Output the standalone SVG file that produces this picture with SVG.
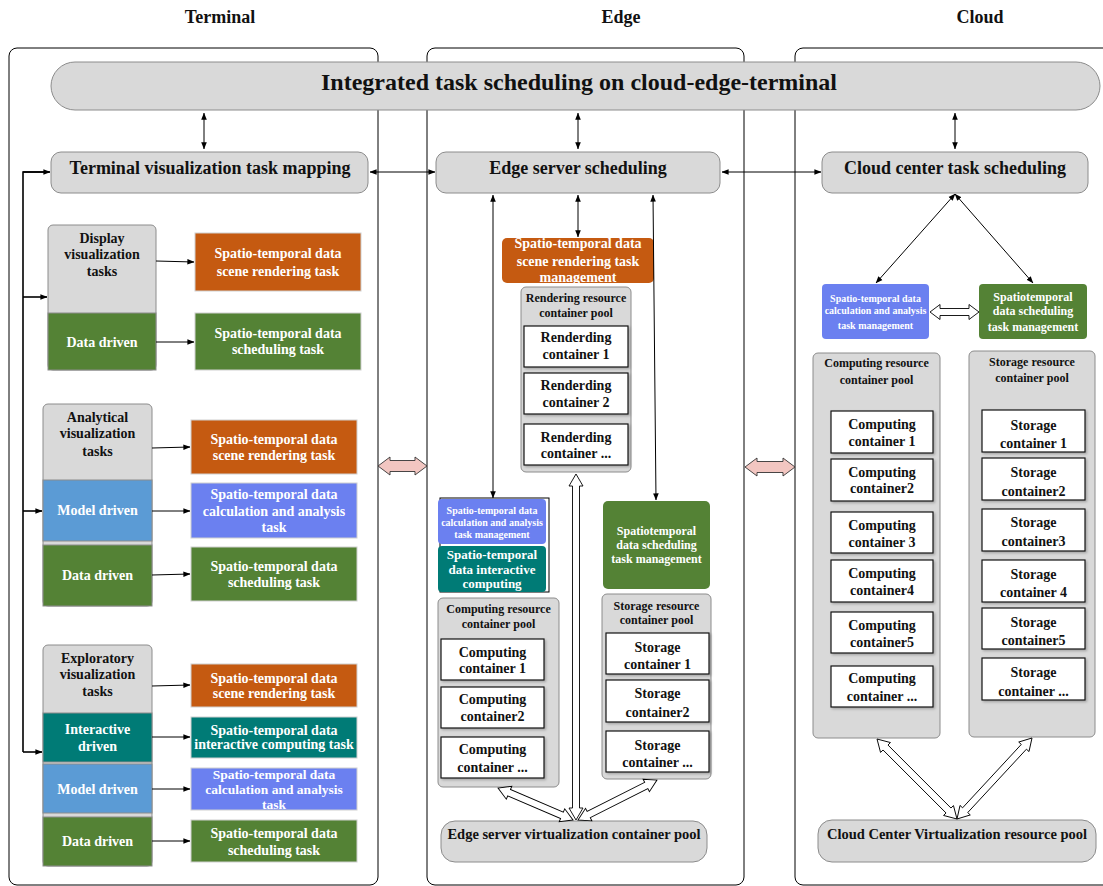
<svg xmlns="http://www.w3.org/2000/svg" width="1103" height="886" viewBox="0 0 1103 886">
<style>
.t{font-family:"Liberation Serif","Times New Roman",serif;font-weight:bold;text-anchor:middle;dominant-baseline:central}
.w{fill:#fff}.k{fill:#111}
.f10{font-size:10px}.f12{font-size:12px}.f13{font-size:13px}.f135{font-size:13.5px}.f14{font-size:14px}.f145{font-size:14.5px}.f18{font-size:18px}.f24{font-size:24px}
.frame{fill:#fff;stroke:#000;stroke-width:1}
.gray{fill:#d9d9d9;stroke:#8c8c8c;stroke-width:1}
.org{fill:#c55a11}.grn{fill:#548235}.blu{fill:#5b9bd5}.vio{fill:#6b80f0}.tea{fill:#007b76}
.sub{stroke:#8c8c8c;stroke-width:1}
.rb{stroke:#d0d0d0;stroke-width:1}
.cont{fill:#fff;stroke:#111;stroke-width:1.2}
.ln{fill:none;stroke:#000;stroke-width:1}
.lnb{fill:none;stroke:#000;stroke-width:1.6}
.hol{fill:#fff;stroke:#000;stroke-width:0.9}
.pink{fill:#f2c6c1;stroke:#333;stroke-width:0.9}
</style>
<defs>
<marker id="ah" viewBox="0 0 10 10" refX="9.5" refY="5" markerWidth="7" markerHeight="7" markerUnits="userSpaceOnUse" orient="auto-start-reverse"><path d="M0,1 L10,5 L0,9 z" fill="#000"/></marker>
<filter id="sh" x="-10%" y="-10%" width="125%" height="130%"><feDropShadow dx="1.5" dy="1.5" stdDeviation="1" flood-color="#000" flood-opacity="0.25"/></filter>
</defs>
<rect width="1103" height="886" fill="#fff"/>

<g id="titles">
<text class="t k f18" x="220" y="17">Terminal</text>
<text class="t k f18" x="621" y="17">Edge</text>
<text class="t k f18" x="980" y="17">Cloud</text>
</g>

<g id="frames">
<rect class="frame" x="9" y="48" width="369" height="837" rx="8"/>
<rect class="frame" x="427" y="48" width="317" height="837" rx="8"/>
<rect class="frame" x="795" y="48" width="330" height="837" rx="8"/>
</g>

<g id="banner">
<rect class="gray" x="51" y="62" width="1049" height="48" rx="24"/>
<text class="t k f24" x="579" y="82">Integrated task scheduling on cloud-edge-terminal</text>
</g>

<g id="terminal-mapping">
<rect class="gray" x="51" y="152" width="317" height="41" rx="10"/>
<text class="t k f18" x="210" y="168">Terminal visualization task mapping</text>
</g>
<g id="edge-scheduling">
<rect class="gray" x="436" y="152" width="284" height="41" rx="10"/>
<text class="t k f18" x="578" y="168">Edge server scheduling</text>
</g>
<g id="cloud-scheduling">
<rect class="gray" x="822" y="152" width="266" height="41" rx="10"/>
<text class="t k f18" x="955" y="168">Cloud center task scheduling</text>
</g>

<!-- Terminal: display -->
<g id="display-tasks">
<rect class="gray" x="48" y="225" width="108" height="145" rx="5"/>
<text class="t k f14" x="102" y="238">Display</text>
<text class="t k f14" x="102" y="254">visualization</text>
<text class="t k f14" x="102" y="271">tasks</text>
</g>
<g id="display-data-driven">
<rect class="grn sub" x="48" y="313" width="108" height="57"/>
<text class="t w f14" x="102" y="342">Data driven</text>
</g>
<g id="display-render-task">
<rect class="org rb" x="195" y="233" width="166" height="58"/>
<text class="t w f14" x="278" y="253">Spatio-temporal data</text>
<text class="t w f14" x="278" y="271">scene rendering task</text>
</g>
<g id="display-sched-task">
<rect class="grn rb" x="195" y="313" width="166" height="57"/>
<text class="t w f14" x="278" y="333">Spatio-temporal data</text>
<text class="t w f14" x="278" y="349">scheduling task</text>
</g>

<!-- Terminal: analytical -->
<g id="analytical-tasks">
<rect class="gray" x="43" y="404" width="109" height="202" rx="5"/>
<text class="t k f14" x="97.5" y="417">Analytical</text>
<text class="t k f14" x="97.5" y="433">visualization</text>
<text class="t k f14" x="97.5" y="451">tasks</text>
</g>
<g id="analytical-model-driven">
<rect class="blu sub" x="43" y="480" width="109" height="61"/>
<text class="t w f14" x="97.5" y="510">Model driven</text>
</g>
<g id="analytical-data-driven">
<rect class="grn sub" x="43" y="545" width="109" height="61"/>
<text class="t w f14" x="97.5" y="575">Data driven</text>
</g>
<g id="analytical-render-task">
<rect class="org rb" x="191" y="420" width="166" height="54"/>
<text class="t w f14" x="274" y="439">Spatio-temporal data</text>
<text class="t w f14" x="274" y="455">scene rendering task</text>
</g>
<g id="analytical-calc-task">
<rect class="vio rb" x="191" y="483" width="166" height="55"/>
<text class="t w f14" x="274" y="494">Spatio-temporal data</text>
<text class="t w f14" x="274" y="511">calculation and analysis</text>
<text class="t w f14" x="274" y="527">task</text>
</g>
<g id="analytical-sched-task">
<rect class="grn rb" x="191" y="547" width="166" height="54"/>
<text class="t w f14" x="274" y="566">Spatio-temporal data</text>
<text class="t w f14" x="274" y="582">scheduling task</text>
</g>

<!-- Terminal: exploratory -->
<g id="exploratory-tasks">
<rect class="gray" x="43" y="645" width="109" height="221" rx="5"/>
<text class="t k f14" x="97.5" y="658">Exploratory</text>
<text class="t k f14" x="97.5" y="674">visualization</text>
<text class="t k f14" x="97.5" y="691">tasks</text>
</g>
<g id="exploratory-interactive-driven">
<rect class="tea sub" x="43" y="713" width="109" height="49"/>
<text class="t w f14" x="97.5" y="729">Interactive</text>
<text class="t w f14" x="97.5" y="746">driven</text>
</g>
<g id="exploratory-model-driven">
<rect class="blu sub" x="43" y="764" width="109" height="49"/>
<text class="t w f14" x="97.5" y="789">Model driven</text>
</g>
<g id="exploratory-data-driven">
<rect class="grn sub" x="43" y="817" width="109" height="49"/>
<text class="t w f14" x="97.5" y="841">Data driven</text>
</g>
<g id="exploratory-render-task">
<rect class="org rb" x="191" y="664" width="166" height="43"/>
<text class="t w f14" x="274" y="678">Spatio-temporal data</text>
<text class="t w f14" x="274" y="693">scene rendering task</text>
</g>
<g id="exploratory-interactive-task">
<rect class="tea rb" x="191" y="717" width="166" height="41"/>
<text class="t w f14" x="274" y="730">Spatio-temporal data</text>
<text class="t w f14" x="274" y="744">interactive computing task</text>
</g>
<g id="exploratory-calc-task">
<rect class="vio rb" x="191" y="768" width="166" height="42"/>
<text class="t w f135" x="274" y="774">Spatio-temporal data</text>
<text class="t w f135" x="274" y="789">calculation and analysis</text>
<text class="t w f135" x="274" y="804">task</text>
</g>
<g id="exploratory-sched-task">
<rect class="grn rb" x="191" y="820" width="166" height="42"/>
<text class="t w f14" x="274" y="833">Spatio-temporal data</text>
<text class="t w f14" x="274" y="850">scheduling task</text>
</g>

<!-- Edge -->
<g id="edge-render-mgmt">
<rect class="org" x="502" y="238" width="152" height="45" rx="5"/>
<text class="t w f14" x="578" y="243">Spatio-temporal data</text>
<text class="t w f14" x="578" y="261">scene rendering task</text>
<text class="t w f14" x="578" y="277">management</text>
</g>
<g id="edge-render-pool">
<rect class="gray" x="521" y="287" width="110" height="185" rx="5"/>
<text class="t k f12" x="576" y="298">Rendering resource</text>
<text class="t k f12" x="576" y="313">container pool</text>
</g>
<g id="render-c1"><rect class="cont" x="524" y="326" width="104" height="41" filter="url(#sh)"/>
<text class="t k f14" x="576" y="337">Renderding</text><text class="t k f14" x="576" y="354">container 1</text></g>
<g id="render-c2"><rect class="cont" x="524" y="373" width="104" height="41" filter="url(#sh)"/>
<text class="t k f14" x="576" y="385">Renderding</text><text class="t k f14" x="576" y="402">container 2</text></g>
<g id="render-c3"><rect class="cont" x="524" y="424" width="104" height="41" filter="url(#sh)"/>
<text class="t k f14" x="576" y="437">Renderding</text><text class="t k f14" x="576" y="453">container ...</text></g>

<g id="edge-calc-mgmt">
<rect class="ln" x="440" y="498" width="109" height="94"/>
<rect class="vio" x="438" y="499" width="108" height="45" rx="4"/>
<text class="t w f10" x="492" y="510">Spatio-temporal data</text>
<text class="t w f10" x="492" y="522">calculation and analysis</text>
<text class="t w f10" x="492" y="534">task management</text>
</g>
<g id="edge-interactive">
<rect class="tea" x="438" y="546" width="108" height="46" rx="4"/>
<text class="t w f13" x="492" y="554">Spatio-temporal</text>
<text class="t w f13" x="492" y="569">data interactive</text>
<text class="t w f13" x="492" y="583">computing</text>
</g>
<g id="edge-sched-mgmt">
<rect class="grn" x="603" y="501" width="107" height="88" rx="5"/>
<text class="t w f12" x="656.5" y="531">Spatiotemporal</text>
<text class="t w f12" x="656.5" y="545">data scheduling</text>
<text class="t w f12" x="656.5" y="559">task management</text>
</g>
<g id="edge-compute-pool">
<rect class="gray" x="438" y="598" width="121" height="189" rx="5"/>
<text class="t k f12" x="498.5" y="609">Computing resource</text>
<text class="t k f12" x="498.5" y="624">container pool</text>
</g>
<g id="edge-comp-c1"><rect class="cont" x="441" y="639" width="103" height="41" filter="url(#sh)"/>
<text class="t k f14" x="492.5" y="652">Computing</text><text class="t k f14" x="492.5" y="668">container 1</text></g>
<g id="edge-comp-c2"><rect class="cont" x="441" y="687" width="103" height="41" filter="url(#sh)"/>
<text class="t k f14" x="492.5" y="699">Computing</text><text class="t k f14" x="492.5" y="716">container2</text></g>
<g id="edge-comp-c3"><rect class="cont" x="441" y="737" width="103" height="41" filter="url(#sh)"/>
<text class="t k f14" x="492.5" y="749">Computing</text><text class="t k f14" x="492.5" y="767">container ...</text></g>
<g id="edge-storage-pool">
<rect class="gray" x="602" y="594" width="109" height="185" rx="5"/>
<text class="t k f12" x="656.5" y="606">Storage resource</text>
<text class="t k f12" x="656.5" y="620">container pool</text>
</g>
<g id="edge-stor-c1"><rect class="cont" x="606" y="633" width="103" height="41" filter="url(#sh)"/>
<text class="t k f14" x="657.5" y="647">Storage</text><text class="t k f14" x="657.5" y="664">container 1</text></g>
<g id="edge-stor-c2"><rect class="cont" x="606" y="680" width="103" height="42" filter="url(#sh)"/>
<text class="t k f14" x="657.5" y="693">Storage</text><text class="t k f14" x="657.5" y="712">container2</text></g>
<g id="edge-stor-c3"><rect class="cont" x="606" y="731" width="103" height="41" filter="url(#sh)"/>
<text class="t k f14" x="657.5" y="745">Storage</text><text class="t k f14" x="657.5" y="762">container ...</text></g>
<g id="edge-virt-pool">
<rect class="gray" x="441" y="821" width="266" height="41" rx="14"/>
<text class="t k f145" x="574" y="834">Edge server virtualization container pool</text>
</g>

<!-- Cloud -->
<g id="cloud-calc-mgmt">
<rect class="vio" x="822" y="284" width="107" height="55" rx="4"/>
<text class="t w f10" x="875.5" y="298">Spatio-temporal data</text>
<text class="t w f10" x="875.5" y="310">calculation and analysis</text>
<text class="t w f10" x="875.5" y="325">task management</text>
</g>
<g id="cloud-sched-mgmt">
<rect class="grn" x="979" y="284" width="108" height="55" rx="4"/>
<text class="t w f12" x="1033" y="297">Spatiotemporal</text>
<text class="t w f12" x="1033" y="311">data scheduling</text>
<text class="t w f12" x="1033" y="327">task management</text>
</g>
<g id="cloud-compute-pool">
<rect class="gray" x="813" y="353" width="127" height="385" rx="5"/>
<text class="t k f12" x="876.5" y="363">Computing resource</text>
<text class="t k f12" x="876.5" y="380">container pool</text>
</g>
<g id="cloud-comp-c1"><rect class="cont" x="831" y="411" width="102" height="42" filter="url(#sh)"/>
<text class="t k f14" x="882" y="424">Computing</text><text class="t k f14" x="882" y="441">container 1</text></g>
<g id="cloud-comp-c2"><rect class="cont" x="831" y="459" width="102" height="42" filter="url(#sh)"/>
<text class="t k f14" x="882" y="472">Computing</text><text class="t k f14" x="882" y="488">container2</text></g>
<g id="cloud-comp-c3"><rect class="cont" x="831" y="512" width="102" height="41" filter="url(#sh)"/>
<text class="t k f14" x="882" y="525">Computing</text><text class="t k f14" x="882" y="542">container 3</text></g>
<g id="cloud-comp-c4"><rect class="cont" x="831" y="560" width="102" height="42" filter="url(#sh)"/>
<text class="t k f14" x="882" y="573">Computing</text><text class="t k f14" x="882" y="590">container4</text></g>
<g id="cloud-comp-c5"><rect class="cont" x="831" y="612" width="102" height="41" filter="url(#sh)"/>
<text class="t k f14" x="882" y="625">Computing</text><text class="t k f14" x="882" y="642">container5</text></g>
<g id="cloud-comp-c6"><rect class="cont" x="831" y="666" width="102" height="41" filter="url(#sh)"/>
<text class="t k f14" x="882" y="678">Computing</text><text class="t k f14" x="882" y="696">container ...</text></g>
<g id="cloud-storage-pool">
<rect class="gray" x="969" y="351" width="126" height="386" rx="5"/>
<text class="t k f12" x="1032" y="362">Storage resource</text>
<text class="t k f12" x="1032" y="378">container pool</text>
</g>
<g id="cloud-stor-c1"><rect class="cont" x="982" y="410" width="103" height="42" filter="url(#sh)"/>
<text class="t k f14" x="1033.5" y="425">Storage</text><text class="t k f14" x="1033.5" y="443">container 1</text></g>
<g id="cloud-stor-c2"><rect class="cont" x="982" y="458" width="103" height="42" filter="url(#sh)"/>
<text class="t k f14" x="1033.5" y="472">Storage</text><text class="t k f14" x="1033.5" y="491">container2</text></g>
<g id="cloud-stor-c3"><rect class="cont" x="982" y="509" width="103" height="42" filter="url(#sh)"/>
<text class="t k f14" x="1033.5" y="522">Storage</text><text class="t k f14" x="1033.5" y="541">container3</text></g>
<g id="cloud-stor-c4"><rect class="cont" x="982" y="560" width="103" height="42" filter="url(#sh)"/>
<text class="t k f14" x="1033.5" y="574">Storage</text><text class="t k f14" x="1033.5" y="592">container 4</text></g>
<g id="cloud-stor-c5"><rect class="cont" x="982" y="608" width="103" height="41" filter="url(#sh)"/>
<text class="t k f14" x="1033.5" y="622">Storage</text><text class="t k f14" x="1033.5" y="640">container5</text></g>
<g id="cloud-stor-c6"><rect class="cont" x="982" y="658" width="103" height="42" filter="url(#sh)"/>
<text class="t k f14" x="1033.5" y="672">Storage</text><text class="t k f14" x="1033.5" y="691">container ...</text></g>
<g id="cloud-virt-pool">
<rect class="gray" x="818" y="820" width="278" height="42" rx="14"/>
<text class="t k f145" x="957" y="834">Cloud Center Virtualization resource pool</text>
</g>

<g id="connectors">
<line class="ln" x1="204" y1="113" x2="204" y2="149" marker-start="url(#ah)" marker-end="url(#ah)"/>
<line class="ln" x1="578" y1="113" x2="578" y2="149" marker-start="url(#ah)" marker-end="url(#ah)"/>
<line class="ln" x1="955" y1="113" x2="955" y2="149" marker-start="url(#ah)" marker-end="url(#ah)"/>
<line class="ln" x1="370" y1="172" x2="435" y2="172" marker-start="url(#ah)" marker-end="url(#ah)"/>
<line class="ln" x1="722" y1="172" x2="821" y2="172" marker-start="url(#ah)" marker-end="url(#ah)"/>
<polyline class="lnb" points="49,172 23,172 23,752"/>
<line class="lnb" x1="23" y1="172" x2="50" y2="172" marker-end="url(#ah)"/>
<line class="lnb" x1="23" y1="297" x2="47" y2="297" marker-end="url(#ah)"/>
<line class="lnb" x1="23" y1="511" x2="42" y2="511" marker-end="url(#ah)"/>
<line class="lnb" x1="23" y1="752" x2="42" y2="752" marker-end="url(#ah)"/>
<line class="ln" x1="156" y1="261" x2="194" y2="262" marker-end="url(#ah)"/>
<line class="ln" x1="156" y1="342" x2="194" y2="342" marker-end="url(#ah)"/>
<line class="ln" x1="152" y1="448" x2="190" y2="447" marker-end="url(#ah)"/>
<line class="ln" x1="152" y1="511" x2="190" y2="511" marker-end="url(#ah)"/>
<line class="ln" x1="152" y1="575" x2="190" y2="574" marker-end="url(#ah)"/>
<line class="ln" x1="152" y1="686" x2="190" y2="685" marker-end="url(#ah)"/>
<line class="ln" x1="152" y1="737" x2="190" y2="737" marker-end="url(#ah)"/>
<line class="ln" x1="152" y1="789" x2="190" y2="789" marker-end="url(#ah)"/>
<line class="ln" x1="152" y1="841" x2="190" y2="841" marker-end="url(#ah)"/>
<line class="ln" x1="493" y1="195" x2="493" y2="498" marker-start="url(#ah)" marker-end="url(#ah)"/>
<line class="ln" x1="578" y1="195" x2="578" y2="237" marker-start="url(#ah)" marker-end="url(#ah)"/>
<line class="ln" x1="653" y1="195" x2="656" y2="500" marker-start="url(#ah)" marker-end="url(#ah)"/>
<line class="ln" x1="955" y1="194" x2="876" y2="283" marker-start="url(#ah)" marker-end="url(#ah)"/>
<line class="ln" x1="955" y1="194" x2="1033" y2="283" marker-start="url(#ah)" marker-end="url(#ah)"/>
<path class="pink" transform="translate(378,466)" d="M0,0 L12,-9 L12,-5.5 L37,-5.5 L37,-9 L49,0 L37,9 L37,5.5 L12,5.5 L12,9 Z"/>
<path class="pink" transform="translate(745,467)" d="M0,0 L12,-9 L12,-5.5 L38,-5.5 L38,-9 L50,0 L38,9 L38,5.5 L12,5.5 L12,9 Z"/>
<path class="hol" transform="translate(576,474) rotate(90)" d="M0,0 L12,-7 L12,-3.5 L334,-3.5 L334,-7 L346,0 L334,7 L334,3.5 L12,3.5 L12,7 Z"/>
<path class="hol" transform="translate(573,820) rotate(-156.9)" d="M0,0 L12,-7 L12,-3.5 L69.5,-3.5 L69.5,-7 L81.5,0 L69.5,7 L69.5,3.5 L12,3.5 L12,7 Z"/>
<path class="hol" transform="translate(578,820) rotate(-26.85)" d="M0,0 L12,-7 L12,-3.5 L76.5,-3.5 L76.5,-7 L88.5,0 L76.5,7 L76.5,3.5 L12,3.5 L12,7 Z"/>
<path class="hol" transform="translate(957,819) rotate(-135)" d="M0,0 L12,-7 L12,-3.5 L101.1,-3.5 L101.1,-7 L113.1,0 L101.1,7 L101.1,3.5 L12,3.5 L12,7 Z"/>
<path class="hol" transform="translate(957,819) rotate(-47.2)" d="M0,0 L12,-7 L12,-3.5 L98.4,-3.5 L98.4,-7 L110.4,0 L98.4,7 L98.4,3.5 L12,3.5 L12,7 Z"/>
<path class="hol" transform="translate(930,312)" d="M0,0 L10,-7.5 L10,-3.5 L39,-3.5 L39,-7.5 L49,0 L39,7.5 L39,3.5 L10,3.5 L10,7.5 Z"/>
</g>
</svg>
